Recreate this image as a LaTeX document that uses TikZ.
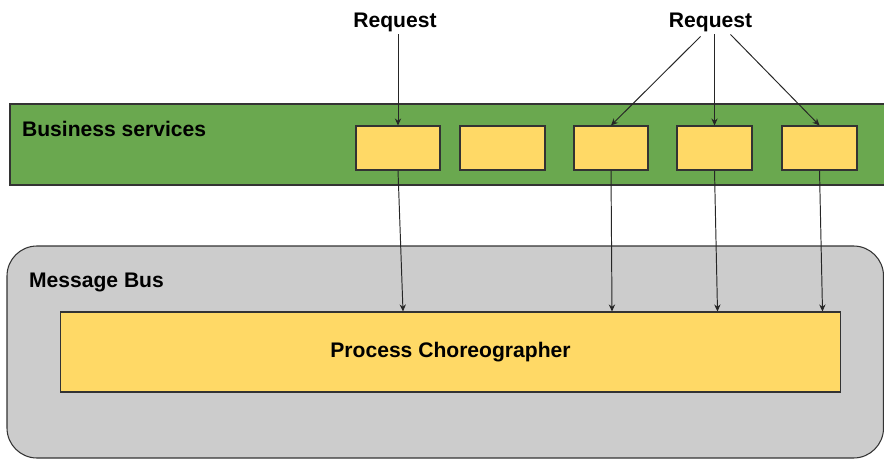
\documentclass[tikz,border=0pt]{standalone}
\usepackage{fontspec}
\setmainfont{Liberation Sans}
\usetikzlibrary{arrows.meta,calc}
\definecolor{bizgreen}{HTML}{6AA84F}
\definecolor{boxyellow}{HTML}{FFD966}
\definecolor{busgray}{HTML}{CCCCCC}
\definecolor{edgegray}{HTML}{333333}

\begin{document}
\begin{tikzpicture}[x=0.02cm,y=-0.02cm,
  svc/.style={draw=edgegray,fill=boxyellow,line width=0.6pt,minimum height=0.88cm,inner sep=0pt},
  lbl/.style={font=\bfseries\fontsize{12}{14}\selectfont,inner sep=1pt},
  arr/.style={draw=black!85,line width=0.55pt,-{Stealth[length=4pt,width=3.6pt]}}]
  \useasboundingbox (0,0) rectangle (884,459);
  % the two layers
  \draw[draw=edgegray,fill=bizgreen,line width=0.6pt] (10,104) rectangle (900,185);
  \draw[draw=edgegray,fill=busgray,line width=0.6pt,rounded corners=0.6cm] (7,246) rectangle (883.5,458);
  \node[lbl,anchor=base west] (biz) at (20,136) {Business services};
  \node[lbl,anchor=base west] (bus) at (27,287) {Message Bus};
  % requests
  \node[lbl,anchor=base] (req1) at (395,28) {Request};
  \node[lbl,anchor=base] (req2) at (710.5,28) {Request};
  % services
  \node[svc,minimum width=1.68cm] (b1) at (398,148) {};
  \node[svc,minimum width=1.70cm] (b2) at (502.5,148) {};
  \node[svc,minimum width=1.48cm] (b3) at (611,148) {};
  \node[svc,minimum width=1.50cm] (b4) at (714.5,148) {};
  \node[svc,minimum width=1.50cm] (b5) at (819.5,148) {};
  \node[svc,lbl,minimum width=15.62cm,minimum height=1.6cm] (chor) at (450.5,352) {Process Choreographer};
  % requests in
  \draw[arr] (req1.south -| b1.north) -- (b1.north);
  \draw[arr] ($(req2.south)+(-10,2)$) -- (b3.north);
  \draw[arr] (req2.south -| b4.north) -- (b4.north);
  \draw[arr] ($(req2.south)+(20,0)$) -- (b5.north);
  % down to the bus
  \draw[arr] (b1.south) -- ($(b1.south |- chor.north)+(5,0)$);
  \draw[arr] (b3.south) -- ($(b3.south |- chor.north)+(1,0)$);
  \draw[arr] (b4.south) -- ($(b4.south |- chor.north)+(3,0)$);
  \draw[arr] (b5.south) -- ($(b5.south |- chor.north)+(3,0)$);
\end{tikzpicture}
\end{document}
